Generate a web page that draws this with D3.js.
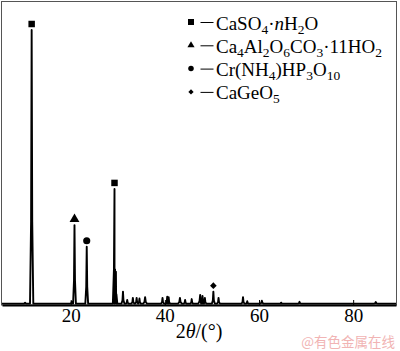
<!DOCTYPE html>
<html>
<head>
<meta charset="utf-8">
<script src="https://cdn.jsdelivr.net/npm/d3@7"></script>
<style>
  body { margin: 0; background: #fff; }
  svg { display: block; }
</style>
</head>
<body>
<script>
// peak positions (2θ, degrees) and intensities (arbitrary units)
const peakAngles = [10.3, 11.7, 20.2, 20.8, 23.4, 29.3, 29.6, 31.1, 32.0, 33.2, 34.0, 34.6, 35.8,
  39.5, 40.5, 40.8, 43.2, 44.3, 45.7, 47.5, 48.0, 48.5, 50.3, 51.4, 56.6, 57.5, 60.6, 64.7, 68.6, 84.8];
const peakIntensities = [5, 1000, 8, 288, 209, 420, 118, 45, 15, 22, 22, 20, 25,
  22, 27, 25, 22, 15, 18, 33, 29, 22, 45, 22, 25, 10, 12, 5, 8, 7];
const peakWidths = [0.6, 0.35, 0.3, 0.3, 0.3, 0.35, 0.3, 0.3, 0.3, 0.3, 0.3, 0.3, 0.4,
  0.3, 0.3, 0.3, 0.4, 0.3, 0.3, 0.4, 0.3, 0.3, 0.3, 0.3, 0.3, 0.3, 0.4, 0.4, 0.4, 0.5];

// phase markers: angle of the marked peak and phase index
const markerAngles = [11.7, 29.3, 20.8, 23.4, 50.3];
const markerPhases = [0, 0, 1, 2, 3];

const phaseLabels = [
  [["CaSO", ""], ["4", "sub"], ["·", ""], ["n", "it"], ["H", ""], ["2", "sub"], ["O", ""]],
  [["Ca", ""], ["4", "sub"], ["Al", ""], ["2", "sub"], ["O", ""], ["6", "sub"], ["CO", ""], ["3", "sub"], ["·11HO", ""], ["2", "sub"]],
  [["Cr(NH", ""], ["4", "sub"], [")HP", ""], ["3", "sub"], ["O", ""], ["10", "sub"]],
  [["CaGeO", ""], ["5", "sub"]],
];
const phaseSymbols = [d3.symbolSquare, d3.symbolTriangle, d3.symbolCircle, d3.symbolSquare];
const phaseRotate = [0, 0, 0, 45];
const plotSymbolSizes = [42, 42, 40, 22];
const legendSymbolSizes = [36, 22, 24, 14];

const xTicks = [20, 40, 60, 80];

const width = 400;
const height = 351;
const plotLeft = 2, plotRight = 396, plotBottom = 305;
const serif = "'Liberation Serif', 'Times New Roman', serif";

const x = d3.scaleLinear().domain([5.4, 89.1]).range([plotLeft, plotRight]);
const y = d3.scaleLinear().domain([0, 1000]).range([304, 30]);

// build the line: flat baseline with a triangular profile for each peak
const base = 1.5;
const points = [[5.4, base]];
peakAngles.forEach((p, i) => {
  const w = peakWidths[i];
  points.push([p - w, base], [p - w * 0.35, peakIntensities[i] * 0.3], [p, peakIntensities[i]],
    [p + w * 0.35, peakIntensities[i] * 0.3], [p + w, base]);
});
points.push([89.1, base]);
points.sort((a, b) => a[0] - b[0]);

const svg = d3.select("body").append("svg")
  .attr("width", width)
  .attr("height", height);

// frame
svg.append("rect")
  .attr("x", 1.5).attr("y", 1.5)
  .attr("width", plotRight - 1)
  .attr("height", plotBottom - 1.5)
  .attr("fill", "none")
  .attr("stroke", "#555")
  .attr("stroke-width", 1);

// pattern
svg.append("path")
  .datum(points)
  .attr("fill", "none")
  .attr("stroke", "#000")
  .attr("stroke-width", 1.9)
  .attr("stroke-linejoin", "round")
  .attr("d", d3.line().x((d) => x(d[0])).y((d) => y(d[1])));

// x axis
const xAxis = svg.append("g")
  .attr("transform", `translate(0,${plotBottom})`)
  .call(d3.axisBottom(x).tickValues(xTicks).tickSizeInner(-5).tickSizeOuter(0).tickPadding(3.5));
xAxis.attr("font-family", serif).attr("font-size", 19);
xAxis.select(".domain").attr("stroke", "#000").attr("stroke-width", 1.8);
xAxis.selectAll(".tick line").attr("stroke", "#000").attr("stroke-width", 1);
xAxis.selectAll("text").attr("fill", "#000");

// axis title
const title = svg.append("text")
  .attr("x", 199).attr("y", 338)
  .attr("text-anchor", "middle")
  .attr("font-family", serif)
  .attr("font-size", 20)
  .attr("fill", "#000");
title.append("tspan").text("2");
title.append("tspan").attr("font-style", "italic").text("θ");
title.append("tspan").text("/(°)");

// peak markers
svg.append("g")
  .selectAll("path")
  .data(markerAngles)
  .join("path")
  .attr("transform", (d, i) => {
    const k = peakAngles.indexOf(d);
    return `translate(${x(d)},${y(peakIntensities[k]) - 6}) rotate(${phaseRotate[markerPhases[i]]})`;
  })
  .attr("d", (d, i) => d3.symbol(phaseSymbols[markerPhases[i]], plotSymbolSizes[markerPhases[i]])())
  .attr("fill", "#000");

// legend
const rows = svg.append("g")
  .selectAll("g")
  .data(phaseLabels)
  .join("g")
  .attr("transform", (d, i) => `translate(191,${22 + i * 23.3})`);

rows.append("path")
  .attr("transform", (d, i) => `rotate(${phaseRotate[i]})`)
  .attr("d", (d, i) => d3.symbol(phaseSymbols[i], legendSymbolSizes[i])())
  .attr("fill", "#000");

rows.append("line")
  .attr("x1", 9.5).attr("x2", 22.5)
  .attr("y1", 0.5).attr("y2", 0.5)
  .attr("stroke", "#000")
  .attr("stroke-width", 1);

rows.append("text")
  .attr("x", 25).attr("y", 7.5)
  .attr("font-family", serif)
  .attr("font-size", 19)
  .attr("fill", "#000")
  .each(function (parts) {
    const t = d3.select(this);
    let lowered = false;
    parts.forEach(([s, kind]) => {
      const span = t.append("tspan").text(s);
      if (kind === "sub") {
        span.attr("font-size", 13.5);
        if (!lowered) span.attr("dy", 4);
        lowered = true;
      } else {
        if (lowered) span.attr("dy", -4);
        lowered = false;
        if (kind === "it") span.attr("font-style", "italic");
      }
    });
  });

// watermark
svg.append("text")
  .attr("x", 395).attr("y", 347)
  .attr("text-anchor", "end")
  .attr("font-family", "'Noto Sans CJK SC', sans-serif")
  .attr("font-size", 13.5)
  .attr("fill", "#f1b4b4")
  .text("@有色金属在线");
</script>
</body>
</html>
